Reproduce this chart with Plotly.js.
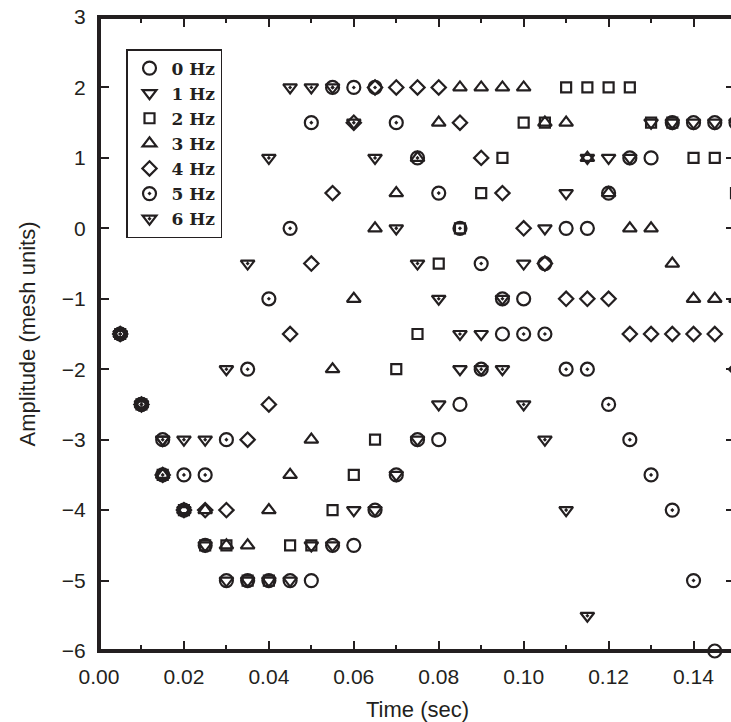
<!DOCTYPE html>
<html>
<head>
<meta charset="utf-8">
<script src="https://cdn.plot.ly/plotly-3.0.1.min.js"></script>
<style>
  html, body { margin: 0; padding: 0; background: #ffffff; overflow: hidden; }
  #chart { width: 760px; height: 722px; }
</style>
</head>
<body>
<div id="chart"></div>
<script>
// Sample times (s)
const timeSec = [0.005, 0.010, 0.015, 0.020, 0.025, 0.030, 0.035, 0.040, 0.045, 0.050,
                 0.055, 0.060, 0.065, 0.070, 0.075, 0.080, 0.085, 0.090, 0.095, 0.100,
                 0.105, 0.110, 0.115, 0.120, 0.125, 0.130, 0.135, 0.140, 0.145, 0.150];

// Amplitude (mesh units) for each forcing frequency
const amp0Hz = [-1.5, -2.5, -3, -4, -4.5, -5, -5, -5, -5, -5, -4.5, -4.5, -4, -3.5, -3,
                -3, -2.5, -2, -1.5, -1, -0.5, 0, 0, 0.5, 1, 1, 1.5, 1.5, 1.5, 1.5];
const amp1Hz = [-1.5, -2.5, -3, -4, -4.5, -5, -5, -5, -5, -4.5, -4.5, -4, -4, -3.5, -3,
                -2.5, -2, -1.5, -1, -0.5, 0, 0.5, 1, 1, 1, 1.5, 1.5, 1.5, 1.5, 1.5];
const amp2Hz = [-1.5, -2.5, -3.5, -4, -4.5, -4.5, -5, -5, -4.5, -4.5, -4, -3.5, -3, -2, -1.5,
                -0.5, 0, 0.5, 1, 1.5, 1.5, 2, 2, 2, 2, 1.5, 1.5, 1, 1, 0.5];
const amp3Hz = [-1.5, -2.5, -3.5, -4, -4, -4.5, -4.5, -4, -3.5, -3, -2, -1, 0, 0.5, 1,
                1.5, 2, 2, 2, 2, 1.5, 1.5, 1, 0.5, 0, 0, -0.5, -1, -1, -1];
const amp4Hz = [-1.5, -2.5, -3.5, -4, -4, -4, -3, -2.5, -1.5, -0.5, 0.5, 1.5, 2, 2, 2,
                2, 1.5, 1, 0.5, 0, -0.5, -1, -1, -1, -1.5, -1.5, -1.5, -1.5, -1.5, -2];
const amp5Hz = [-1.5, -2.5, -3.5, -3.5, -3.5, -3, -2, -1, 0, 1.5, 2, 2, 2, 1.5, 1,
                0.5, 0, -0.5, -1, -1.5, -1.5, -2, -2, -2.5, -3, -3.5, -4, -5, -6];
const amp6Hz = [-1.5, -2.5, -3, -3, -3, -2, -0.5, 1, 2, 2, 2, 1.5, 1, 0, -0.5,
                -1, -1.5, -2, -2, -2.5, -3, -4, -5.5];

const seriesNames = ['0 Hz', '1 Hz', '2 Hz', '3 Hz', '4 Hz', '5 Hz', '6 Hz'];
const seriesValues = [amp0Hz, amp1Hz, amp2Hz, amp3Hz, amp4Hz, amp5Hz, amp6Hz];

const ink = '#231f20';
const symbols = ['circle-open', 'triangle-down-open', 'square-open', 'triangle-up-open',
                 'diamond-open', 'circle-open-dot', 'triangle-down-open-dot'];
const sizes = [13, 12, 10, 12, 11, 13, 12];

const traces = seriesValues.map((vals, i) => ({
  type: 'scatter',
  mode: 'markers',
  name: seriesNames[i],
  x: timeSec.slice(0, vals.length),
  y: vals,
  cliponaxis: false,
  marker: {
    symbol: symbols[i],
    size: sizes[i],
    color: ink,
    line: { color: ink, width: 2.2 }
  },
  hoverinfo: 'x+y+name'
}));

const tickFont = { family: 'Liberation Sans, Arial, sans-serif', size: 21, color: ink };
const titleFont = { family: 'Liberation Sans, Arial, sans-serif', size: 22, color: ink };

// Axis lines are kept invisible so the mirrored ticks are drawn; the frame is a shape
const hiddenLine = 'rgba(0,0,0,0)';

const layout = {
  width: 760,
  height: 722,
  margin: { l: 99, r: 24, t: 17, b: 71, pad: 0 },
  paper_bgcolor: '#ffffff',
  plot_bgcolor: '#ffffff',
  showlegend: true,
  xaxis: {
    range: [0, 0.15],
    dtick: 0.02,
    tick0: 0,
    tickformat: '.2f',
    ticks: 'inside',
    ticklen: 10,
    tickwidth: 2,
    tickcolor: ink,
    minor: { dtick: 0.01, ticks: 'inside', ticklen: 6, tickwidth: 2, tickcolor: ink, showgrid: false },
    showline: true,
    linecolor: hiddenLine,
    linewidth: 1,
    mirror: 'ticks',
    showgrid: false,
    zeroline: false,
    tickfont: tickFont,
    ticklabelstandoff: 7,
    title: { text: 'Time (sec)', font: titleFont, standoff: 16 }
  },
  yaxis: {
    range: [-6, 3],
    dtick: 1,
    tick0: 0,
    ticks: 'inside',
    ticklen: 10,
    tickwidth: 2,
    tickcolor: ink,
    showline: true,
    linecolor: hiddenLine,
    linewidth: 1,
    mirror: 'ticks',
    showgrid: false,
    zeroline: false,
    tickfont: tickFont,
    ticklabelstandoff: 8,
    title: { text: 'Amplitude (mesh units)', font: titleFont, standoff: 20 }
  },
  shapes: [{
    type: 'rect', xref: 'paper', yref: 'paper',
    x0: 0, x1: 1, y0: 0, y1: 1,
    line: { color: ink, width: 4 },
    layer: 'above'
  }],
  legend: {
    x: 0.0424, y: 0.9495, xanchor: 'left', yanchor: 'top',
    bgcolor: '#ffffff',
    bordercolor: ink,
    borderwidth: 1.5,
    itemwidth: 34,
    font: { family: 'DejaVu Serif, serif', size: 17, color: ink, weight: 'bold' },
    tracegroupgap: 0
  }
};

Plotly.newPlot('chart', traces, layout, { displayModeBar: false, staticPlot: true });
</script>
</body>
</html>
